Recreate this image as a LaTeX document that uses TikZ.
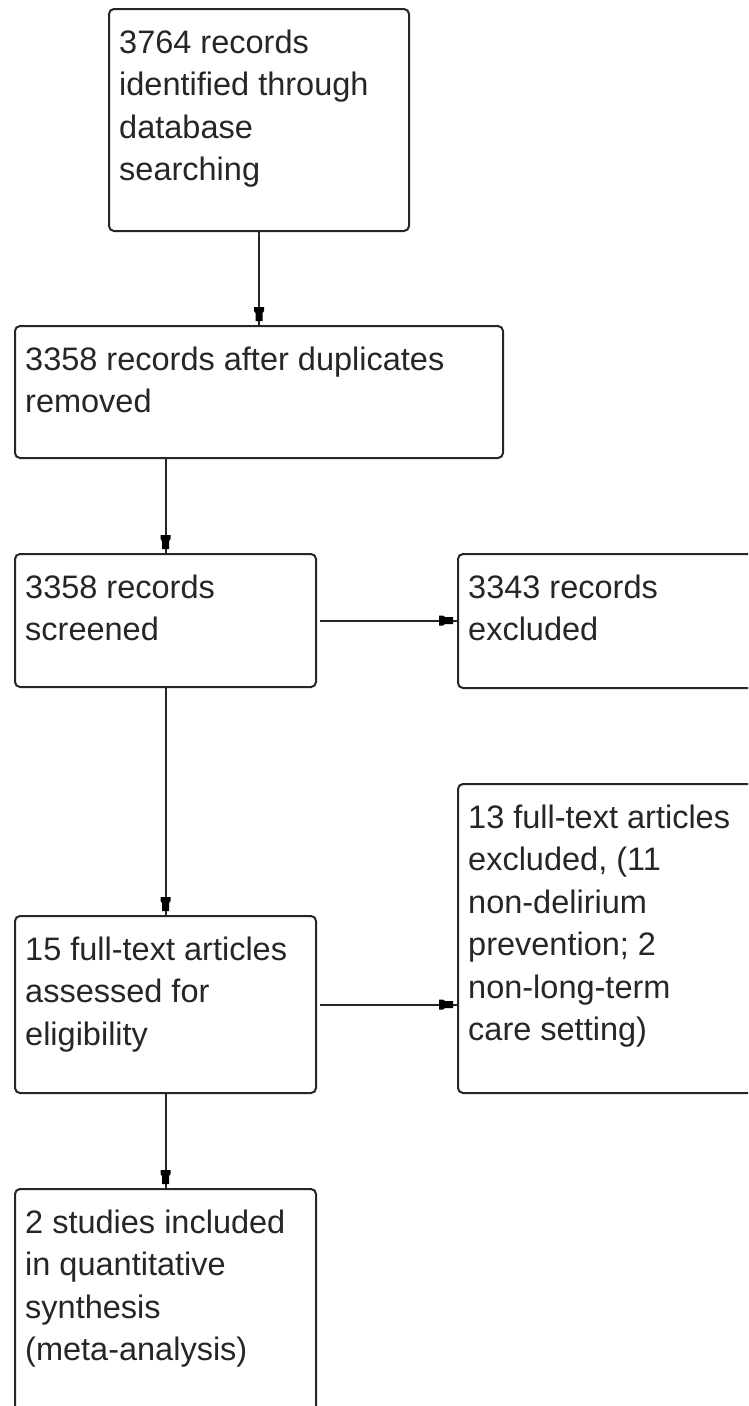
\documentclass[tikz,border=0pt]{standalone}
\usepackage{fontspec}
\setmainfont{Liberation Sans}
\usetikzlibrary{calc}
\newcommand\boxlines[1]{\begin{tabular}[t]{@{}l@{}}#1\end{tabular}}
\begin{document}
\begin{tikzpicture}[x=1pt,y=-1pt,
  box/.style={draw=black!85, line width=2pt, rounded corners=5pt, fill=white, inner sep=0pt, anchor=north west},
  txt/.style={anchor=base west, inner sep=0pt, text=black!85,
    font=\fontsize{32.5}{42.5}\selectfont},
  conn/.style={draw=black!85, line width=2pt},
  tipdown/.pic={\fill[black] (-5,-18) -- (5,-18) -- (5,-14) -- (3.5,-12) -- (3.5,-4) -- (-3.5,-4) -- (-3.5,-12) -- (-5,-14) -- cycle;},
  tipright/.pic={\fill[black] (-18,-5) -- (-18,5) -- (-14,5) -- (-12,3.5) -- (-4,3.5) -- (-4,-3.5) -- (-12,-3.5) -- (-14,-5) -- cycle;},
]
\useasboundingbox (0,0) rectangle (748,1406);
\clip (0,0) rectangle (748,1406);
\fill[white] (0,0) rectangle (748,1406);
% boxes
\node[box, minimum width=300pt, minimum height=222pt] (n1) at (108,8) {};
\node[box, minimum width=488pt, minimum height=132pt] (n2) at (14,325) {};
\node[box, minimum width=301pt, minimum height=133pt] (n3) at (14,553) {};
\node[box, minimum width=360pt, minimum height=134pt] (n4) at (457,553) {};
\node[box, minimum width=301pt, minimum height=177pt] (n5) at (14,915) {};
\node[box, minimum width=360pt, minimum height=309pt] (n6) at (457,783) {};
\node[box, minimum width=301pt, minimum height=260pt] (n7) at (14,1188) {};
% texts
\node[txt] (t1) at ($(n1.north west)+(11,45)$) {\boxlines{3764 records\\identified through\\database\\searching}};
\node[txt] (t2) at ($(n2.north west)+(11,45)$) {\boxlines{3358 records after duplicates\\removed}};
\node[txt] (t3) at ($(n3.north west)+(11,45)$) {\boxlines{3358 records\\screened}};
\node[txt] (t4) at ($(n4.north west)+(11,45)$) {\boxlines{3343 records\\excluded}};
\node[txt] (t5) at ($(n5.north west)+(11,45)$) {\boxlines{15 full-text articles\\assessed for\\eligibility}};
\node[txt] (t6) at ($(n6.north west)+(11,45)$) {\boxlines{13 full-text articles\\excluded, (11\\non-delirium\\prevention; 2\\non-long-term\\care setting)}};
\node[txt] (t7) at ($(n7.north west)+(11,45)$) {\boxlines{2 studies included\\in quantitative\\synthesis\\(meta-analysis)}};
% connectors
\draw[conn] (n1.south) -- (n2.north -| n1.south) pic {tipdown};
\draw[conn] (n2.south -| n3.north) -- (n3.north) pic {tipdown};
\draw[conn] (n3.south) -- (n5.north) pic {tipdown};
\draw[conn] (n5.south) -- (n7.north) pic {tipdown};
\draw[conn, shorten <=3pt] (n3.east) -- (n4.west |- n3.east) pic {tipright};
\draw[conn, shorten <=3pt] (n5.east) -- (n6.west |- n5.east) pic {tipright};
\end{tikzpicture}
\end{document}
